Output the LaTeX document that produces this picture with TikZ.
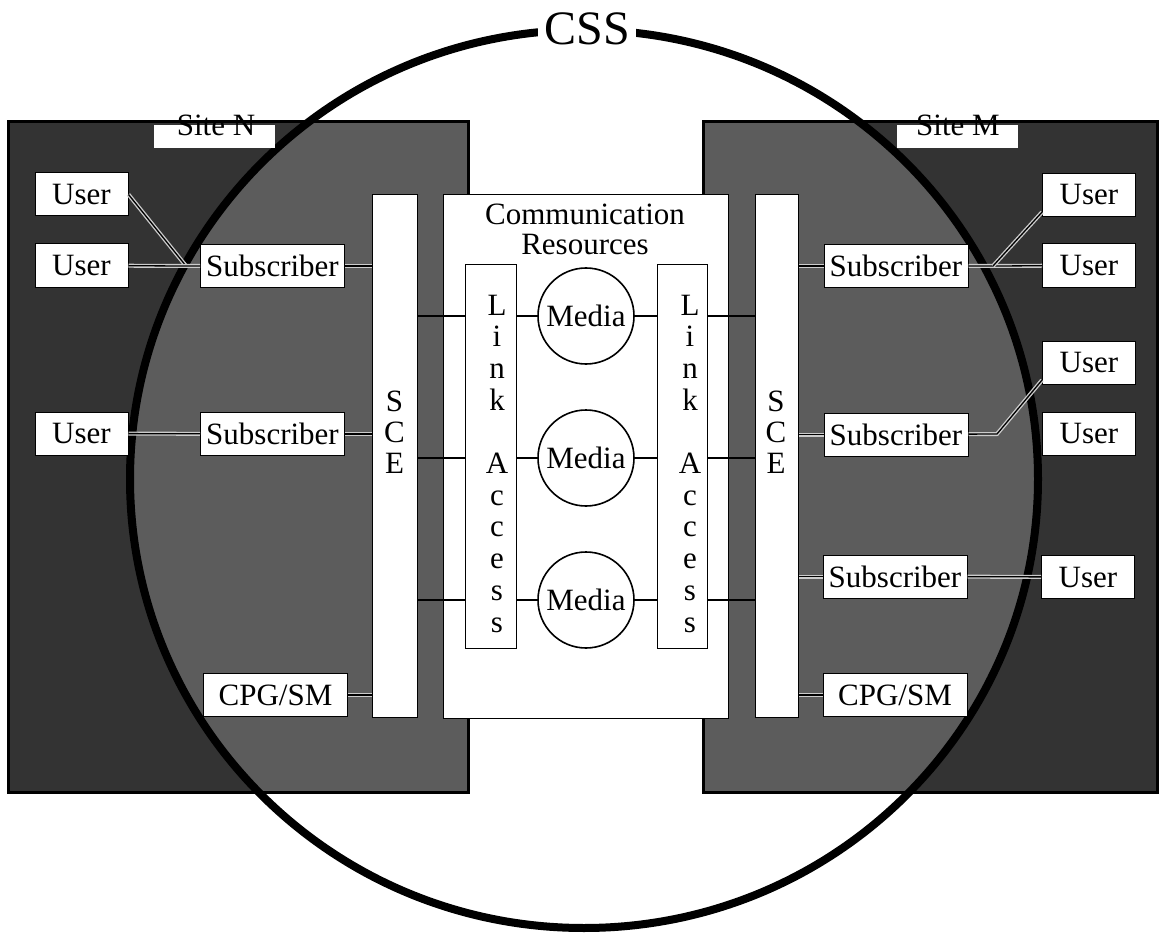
\documentclass[tikz,border=0pt]{standalone}
\usepackage{fontspec}
\setmainfont{Liberation Serif}
\begin{document}
\begin{tikzpicture}[x=1pt,y=-1pt]
		\tikzset{box/.style={draw=black, fill=white, line width=1pt, inner sep=0pt, font=\fontsize{31}{31}\selectfont},
			user/.style={box, minimum width=93pt, minimum height=43pt},
			subs/.style={box, minimum width=144pt, minimum height=43pt},
			bar/.style={draw=black, fill=white, line width=1pt, inner sep=0pt},
			media/.style={circle, draw=black, fill=white, line width=1.6pt, minimum size=96pt, inner sep=0pt, font=\fontsize{31}{31}\selectfont},
			wire/.style={line width=1.3pt},
			darkwire/.style={wire, preaction={draw=black!20, line width=4pt}},
			vtext/.style={align=center, inner sep=0pt, anchor=north},
			sitelab/.style={fill=white, inner sep=0pt, minimum width=121pt, minimum height=23pt}}
		\colorlet{darkbg}{black!80}
		\colorlet{lightbg}{black!64}
		\useasboundingbox (0,0) rectangle (1165,936);
		\fill[darkbg] (8,122) rectangle (468,792);
		\fill[darkbg] (703,122) rectangle (1157,792);
		\begin{scope}
			\clip (584,479) ellipse [x radius=454, y radius=449];
			\fill[lightbg] (8,122) rectangle (468,792);
			\fill[lightbg] (703,122) rectangle (1157,792);
		\end{scope}
		\draw[line width=3pt] (8,122) rectangle (468,792);
		\draw[line width=3pt] (703,122) rectangle (1157,792);
		\draw[line width=8pt] (584,479) ellipse [x radius=454, y radius=449];
		\node[sitelab] (siteNbox) at (214.5,136.5) {};
		\node[sitelab] (siteMbox) at (957.5,136.5) {};
		\node[anchor=base, inner sep=0pt, font=\fontsize{31}{31}\selectfont] (siteN) at (216,136) {Site N};
		\node[anchor=base, inner sep=0pt, font=\fontsize{31}{31}\selectfont] (siteM) at (958,136) {Site M};
		\node[bar, minimum width=285pt, minimum height=523pt] (comm) at (585.5,456.5) {};
		\node[vtext, font=\fontsize{31}{30}\selectfont] (commtxt) at (585,204) {Communication\\Resources};
		\node[bar, minimum width=45pt, minimum height=522pt] (sceN) at (394.5,456) {};
		\node[bar, minimum width=43pt, minimum height=522pt] (sceM) at (776.5,456) {};
		\node[vtext, font=\fontsize{31}{31}\selectfont] (sceNtxt) at (394.5,391) {S\\C\\E};
		\node[vtext, font=\fontsize{31}{31}\selectfont] (sceMtxt) at (776,391) {S\\C\\E};
		\node[bar, minimum width=51pt, minimum height=383pt] (linkN) at (490.5,456.5) {};
		\node[bar, minimum width=50pt, minimum height=383pt] (linkM) at (682,456.5) {};
		\node[vtext, font=\fontsize{31}{31.7}\selectfont] (linkNtxt) at (497,294.5) {L\\i\\n\\k\\[31.7pt]A\\c\\c\\e\\s\\s};
		\node[vtext, font=\fontsize{31}{31.7}\selectfont] (linkMtxt) at (690,294.5) {L\\i\\n\\k\\[31.7pt]A\\c\\c\\e\\s\\s};
		\node[media] (mediaA) at (586,316) {Media};
		\node[media] (mediaB) at (586,458) {Media};
		\node[media] (mediaC) at (586,600) {Media};
		\node[user] (userA) at (81.5,194.5) {User};
		\node[user] (userB) at (81.5,265.5) {User};
		\node[user] (userC) at (81.5,433.5) {User};
		\node[subs] (subA) at (272.5,266) {Subscriber};
		\node[subs] (subB) at (272.5,434) {Subscriber};
		\node[subs] (cpgN) at (275.5,695) {CPG/SM};
		\node[subs] (subC) at (896,266) {Subscriber};
		\node[subs] (subD) at (896,434.5) {Subscriber};
		\node[subs] (subE) at (895,576.5) {Subscriber};
		\node[subs] (cpgM) at (895,695) {CPG/SM};
		\node[user] (userD) at (1089,195) {User};
		\node[user] (userE) at (1089,265.5) {User};
		\node[user] (userF) at (1089,363) {User};
		\node[user] (userG) at (1089,434) {User};
		\node[user] (userH) at (1088,577) {User};
		\coordinate (jN) at (186,266);
		\coordinate (jM) at (993,266);
		\coordinate (jK) at (997,434);
		\draw[darkwire] (userA.east) -- (jN);
		\draw[darkwire] (userB) -- (jN) -- (subA);
		\draw[darkwire] (userC) -- (subB);
		\draw[darkwire] (subA) -- (subA -| sceN.west);
		\draw[darkwire] (subB) -- (subB -| sceN.west);
		\draw[darkwire] (cpgN) -- (cpgN -| sceN.west);
		\draw[darkwire] (subC) -- (subC -| sceM.east);
		\draw[darkwire] (subD) -- (subD -| sceM.east);
		\draw[darkwire] (subE) -- (subE -| sceM.east);
		\draw[darkwire] (cpgM) -- (cpgM -| sceM.east);
		\draw[darkwire] (subC) -- (jM) -- (userE);
		\draw[darkwire] (jM) -- (userD.200);
		\draw[darkwire] (subD) -- (jK) -- (userF.200);
		\draw[darkwire] (subE) -- (userH);
		\foreach \m in {mediaA,mediaB,mediaC}{
			\draw[wire] (\m) -- (\m -| linkN.east);
			\draw[wire] (\m) -- (\m -| linkM.west);
			\draw[wire] (\m -| linkN.west) -- (\m -| sceN.east);
			\draw[wire] (\m -| linkM.east) -- (\m -| sceM.west);
		}
		\node[fill=white, inner xsep=6pt, inner ysep=2pt, font=\fontsize{48}{48}\selectfont] (css) at (587,29) {CSS};
	\end{tikzpicture}
\end{document}
